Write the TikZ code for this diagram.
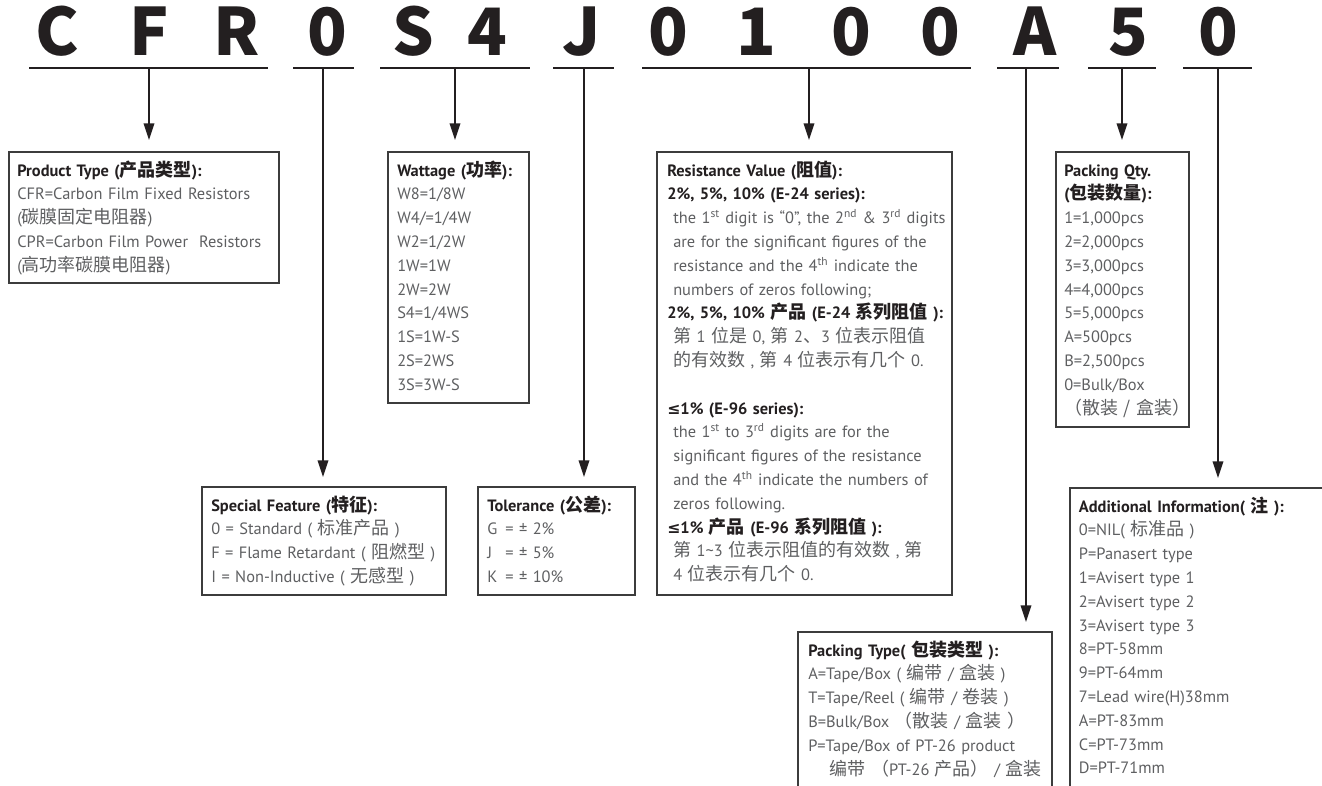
\documentclass[tikz,border=0pt]{standalone}
\usepackage{fontspec}
\setmainfont{PT Sans}[WordSpace=0.85]
\newfontfamily\zh{Noto Sans CJK SC}
\newfontfamily\bigfont{Noto Sans CJK SC}
\newfontfamily\symfont{DejaVu Sans}
\usetikzlibrary{arrows.meta}
\definecolor{ink}{HTML}{231F20}
\definecolor{bodyc}{HTML}{5E5F61}
\definecolor{boxc}{HTML}{3C3C3C}
\tikzset{
  box/.style={draw=boxc, line width=0.9pt, inner sep=0pt, outer sep=0pt, anchor=north west},
  txt/.style={anchor=base west, inner sep=0pt, text width=300pt, align=left, text=bodyc, font=\fontsize{12.3}{17.85}\selectfont},
  code/.style={anchor=base, inner sep=0pt, text=ink, font=\bigfont\fontsize{49}{49}\selectfont\bfseries},
  uline/.style={draw=ink, line width=1.6pt},
  conn/.style={draw=ink, line width=1.1pt, -{Triangle[length=12.5pt,width=8pt]}, shorten >=7.5pt},
  conntop/.style={conn, shorten >=9pt},
}
\newcommand{\hd}[1]{{\bfseries\color{ink}#1}}
\newcommand{\cn}[1]{{\zh\fontsize{13.5}{17.85}\selectfont #1}}
\newcommand{\lesym}{{\symfont\fontsize{11.8}{17.85}\selectfont ≤}}
\newcommand{\ind}{\hspace*{4.5pt}}
\begin{document}
\begin{tikzpicture}[x=0.75pt,y=-0.75pt]
\useasboundingbox (0,0) rectangle (1322,786);
\clip (0,0) rectangle (1322,786);
% code letters
\foreach \ch/\xx [count=\i] in {C/57,F/149,R/237,0/327,S/413,4/487,J/582,0/668,1/756,0/851,0/940,A/1035,5/1128,0/1218}
  \node[code] (c\i) at (\xx,55) {\ch};
% underlines
\draw[uline] (29,68) -- (268,68);
\draw[uline] (293,68) -- (354,68);
\draw[uline] (380,68) -- (530,68);
\draw[uline] (553,68) -- (614,68);
\draw[uline] (642,68) -- (971,68);
\draw[uline] (997,68) -- (1059,68);
\draw[uline] (1088,68) -- (1156,68);
\draw[uline] (1183,68) -- (1252,68);
\coordinate (uCFR) at (149,68);
\coordinate (uSF) at (323,68);
\coordinate (uW) at (455,68);
\coordinate (uT) at (584,68);
\coordinate (uR) at (809,68);
\coordinate (uPT) at (1026,68);
\coordinate (uPQ) at (1122,68);
\coordinate (uAI) at (1218,68);
% boxes
\node[box, minimum width=202.5pt, minimum height=98.25pt] (prod) at (9,152) {};
\node[box, minimum width=105.75pt, minimum height=188.25pt] (watt) at (388,152) {};
\node[box, minimum width=221.25pt, minimum height=332.25pt] (res) at (657,152) {};
\node[box, minimum width=99.75pt, minimum height=206.25pt] (pq) at (1056,152) {};
\node[box, minimum width=183pt, minimum height=81pt] (spec) at (202,487) {};
\node[box, minimum width=117.75pt, minimum height=81pt] (tol) at (478,487) {};
\node[box, minimum width=190.5pt, minimum height=135pt] (ptype) at (798,632) {};
\node[box, minimum width=202.5pt, minimum height=234pt] (add) at (1070,488) {};
% connectors
\draw[conntop] (uCFR) -- (uCFR |- prod.north);
\draw[conn] (uSF) -- (uSF |- spec.north);
\draw[conntop] (uW) -- (uW |- watt.north);
\draw[conn] (uT) -- (uT |- tol.north);
\draw[conntop] (uR) -- (uR |- res.north);
\draw[conn] (uPT) -- (uPT |- ptype.north);
\draw[conntop] (uPQ) -- (uPQ |- pq.north);
\draw[conn] (uAI) -- (uAI |- add.north);
% texts
\node[txt] (prodT) at ([xshift=6pt,yshift=-18pt]prod.north west) {%
\hd{Product Type (\cn{产品类型}):}\\
CFR=Carbon Film Fixed Resistors\\
(\cn{碳膜固定电阻器})\\
CPR=Carbon Film Power\ \ Resistors\\
(\cn{高功率碳膜电阻器})};
\node[txt] (wattT) at ([xshift=6.75pt,yshift=-18pt]watt.north west) {%
\hd{Wattage (\cn{功率}):}\\
W8=1/8W\\
W4/=1/4W\\
W2=1/2W\\
1W=1W\\
2W=2W\\
S4=1/4WS\\
1S=1W-S\\
2S=2WS\\
3S=3W-S};
\node[txt] (resT) at ([xshift=7.5pt,yshift=-18pt]res.north west) {%
\hd{Resistance Value (\cn{阻值}):}\\
\hd{2\%, 5\%, 10\% (E-24 series):}\\
\ind the 1\textsuperscript{st} digit is “0”, the 2\textsuperscript{nd} \& 3\textsuperscript{rd} digits\\
\ind are for the significant figures of the\\
\ind resistance and the 4\textsuperscript{th} indicate the\\
\ind numbers of zeros following;\\
\hd{2\%, 5\%, 10\% \cn{产品} (E-24 \cn{系列阻值} ):}\\
\ind \cn{第} 1 \cn{位是} 0, \cn{第} 2\cn{、}3 \cn{位表示阻值}\\
\ind \cn{的有效数} , \cn{第} 4 \cn{位表示有几个} 0.\\
\mbox{}\\
\hd{\lesym 1\% (E-96 series):}\\
\ind the 1\textsuperscript{st} to 3\textsuperscript{rd} digits are for the\\
\ind significant figures of the resistance\\
\ind and the 4\textsuperscript{th} indicate the numbers of\\
\ind zeros following.\\
\hd{\lesym 1\% \cn{产品} (E-96 \cn{系列阻值} ):}\\
\ind \cn{第} 1\textasciitilde 3 \cn{位表示阻值的有效数} , \cn{第}\\
\ind 4 \cn{位表示有几个} 0.};
\node[txt] (pqT) at ([xshift=6pt,yshift=-18pt]pq.north west) {%
\hd{Packing Qty.}\\
\hd{(\cn{包装数量}):}\\
1=1,000pcs\\
2=2,000pcs\\
3=3,000pcs\\
4=4,000pcs\\
5=5,000pcs\\
A=500pcs\\
B=2,500pcs\\
0=Bulk/Box\\
\cn{（散装 / 盒装）}};
\node[txt] (specT) at ([xshift=6.75pt,yshift=-18pt]spec.north west) {%
\hd{Special Feature (\cn{特征}):}\\
0 = Standard ( \cn{标准产品} )\\
F = Flame Retardant ( \cn{阻燃型} )\\
I = Non-Inductive ( \cn{无感型} )};
\node[txt] (tolT) at ([xshift=6.75pt,yshift=-18pt]tol.north west) {%
\hd{Tolerance (\cn{公差}):}\\
\makebox[13.5pt][l]{G}= ± 2\%\\
\makebox[13.5pt][l]{J}= ± 5\%\\
\makebox[13.5pt][l]{K}= ± 10\%};
\node[txt] (ptypeT) at ([xshift=7.5pt,yshift=-18pt]ptype.north west) {%
\hd{Packing Type( \cn{包装类型} ):}\\
A=Tape/Box ( \cn{编带} / \cn{盒装} )\\
T=Tape/Reel ( \cn{编带} / \cn{卷装} )\\
B=Bulk/Box \cn{（散装} / \cn{盒装} \cn{）}\\
P=Tape/Box of PT-26 product\\
\hspace*{16pt}\cn{编带} \cn{（}PT-26 \cn{产品）} / \cn{盒装}};
\node[txt] (addT) at ([xshift=6.5pt,yshift=-18pt]add.north west) {%
\hd{Additional Information( \cn{注} ):}\\
0=NIL( \cn{标准品} )\\
P=Panasert type\\
1=Avisert type 1\\
2=Avisert type 2\\
3=Avisert type 3\\
8=PT-58mm\\
9=PT-64mm\\
7=Lead wire(H)38mm\\
A=PT-83mm\\
C=PT-73mm\\
D=PT-71mm};
\end{tikzpicture}
\end{document}
